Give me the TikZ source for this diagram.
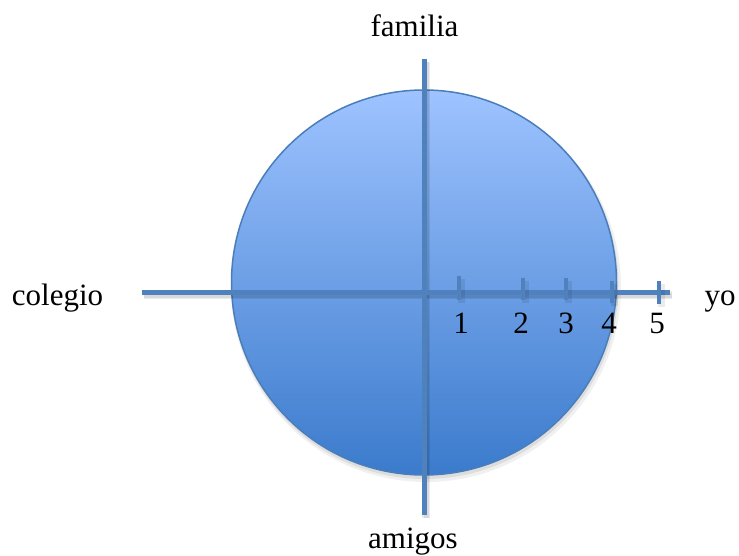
\documentclass[tikz,border=0pt]{standalone}
\usepackage{fontspec}
\setmainfont{Liberation Serif}
\definecolor{linec}{HTML}{4F81BD}
\definecolor{edgec}{HTML}{4A7EBB}
\definecolor{topc}{HTML}{9EC3FF}
\definecolor{botc}{HTML}{3B7BCC}
\begin{document}
\begin{tikzpicture}[x=1pt,y=-1pt,
  lbl/.style={anchor=base,inner sep=0pt,font=\fontsize{31}{36}\selectfont},
  axis/.style={draw=linec,line width=5pt},
  shad/.style={draw=black,opacity=0.08,line width=8pt},
  shadb/.style={draw=black,opacity=0.08,line width=5pt},
  tickm/.style={draw=linec,line width=4.5pt}]
\useasboundingbox (0,0) rectangle (739,556);
% circle shadow
\fill[black,opacity=0.06] (426,287) circle (195);
\fill[black,opacity=0.08] (425,285.5) circle (193.5);
% circle
\shade[top color=topc,bottom color=botc,draw=edgec,line width=1.5pt] (424,282.5) circle (192.5);
% coordinates
\coordinate (vt) at (424,59);
\coordinate (vb) at (424,515);
\coordinate (hl) at (142,292);
\coordinate (hr) at (670,292);
% shadows of lines
\draw[shad] ([shift={(2,3)}]vt) -- ([shift={(2,3)}]vb);
\draw[shadb] ([shift={(2,3)}]vt) -- ([shift={(2,3)}]vb);
\draw[shad] ([shift={(2,3)}]hl) -- ([shift={(2,3)}]hr);
\draw[shadb] ([shift={(2,3)}]hl) -- ([shift={(2,3)}]hr);
% axes
\draw[axis] (vt) -- (vb);
\draw[axis] (hl) -- (hr);
% ticks
\foreach \x/\a/\b in {459/276/300, 523/278/300, 566/278/300, 612/281/303, 659/281/304}{
  \draw[shad,line width=7pt] (\x+2,\a+3) -- (\x+2,\b+3);
  \draw[tickm] (\x,\a) -- (\x,\b);
}
% labels
\node[lbl] (fam) at (414.5,37) {familia};
\node[lbl] (ami) at (413,548) {amigos};
\node[lbl] (col) at (57.5,305) {colegio};
\node[lbl] (yo) at (720,305) {yo};
\begin{scope}
\clip (430,300) rectangle (700,333);
\node[lbl] (n1) at (461,333) {1};
\node[lbl] (n2) at (521,333) {2};
\node[lbl] (n3) at (566,333) {3};
\node[lbl] (n4) at (609,333) {4};
\node[lbl] (n5) at (657,333) {5};
\end{scope}
\end{tikzpicture}
\end{document}
